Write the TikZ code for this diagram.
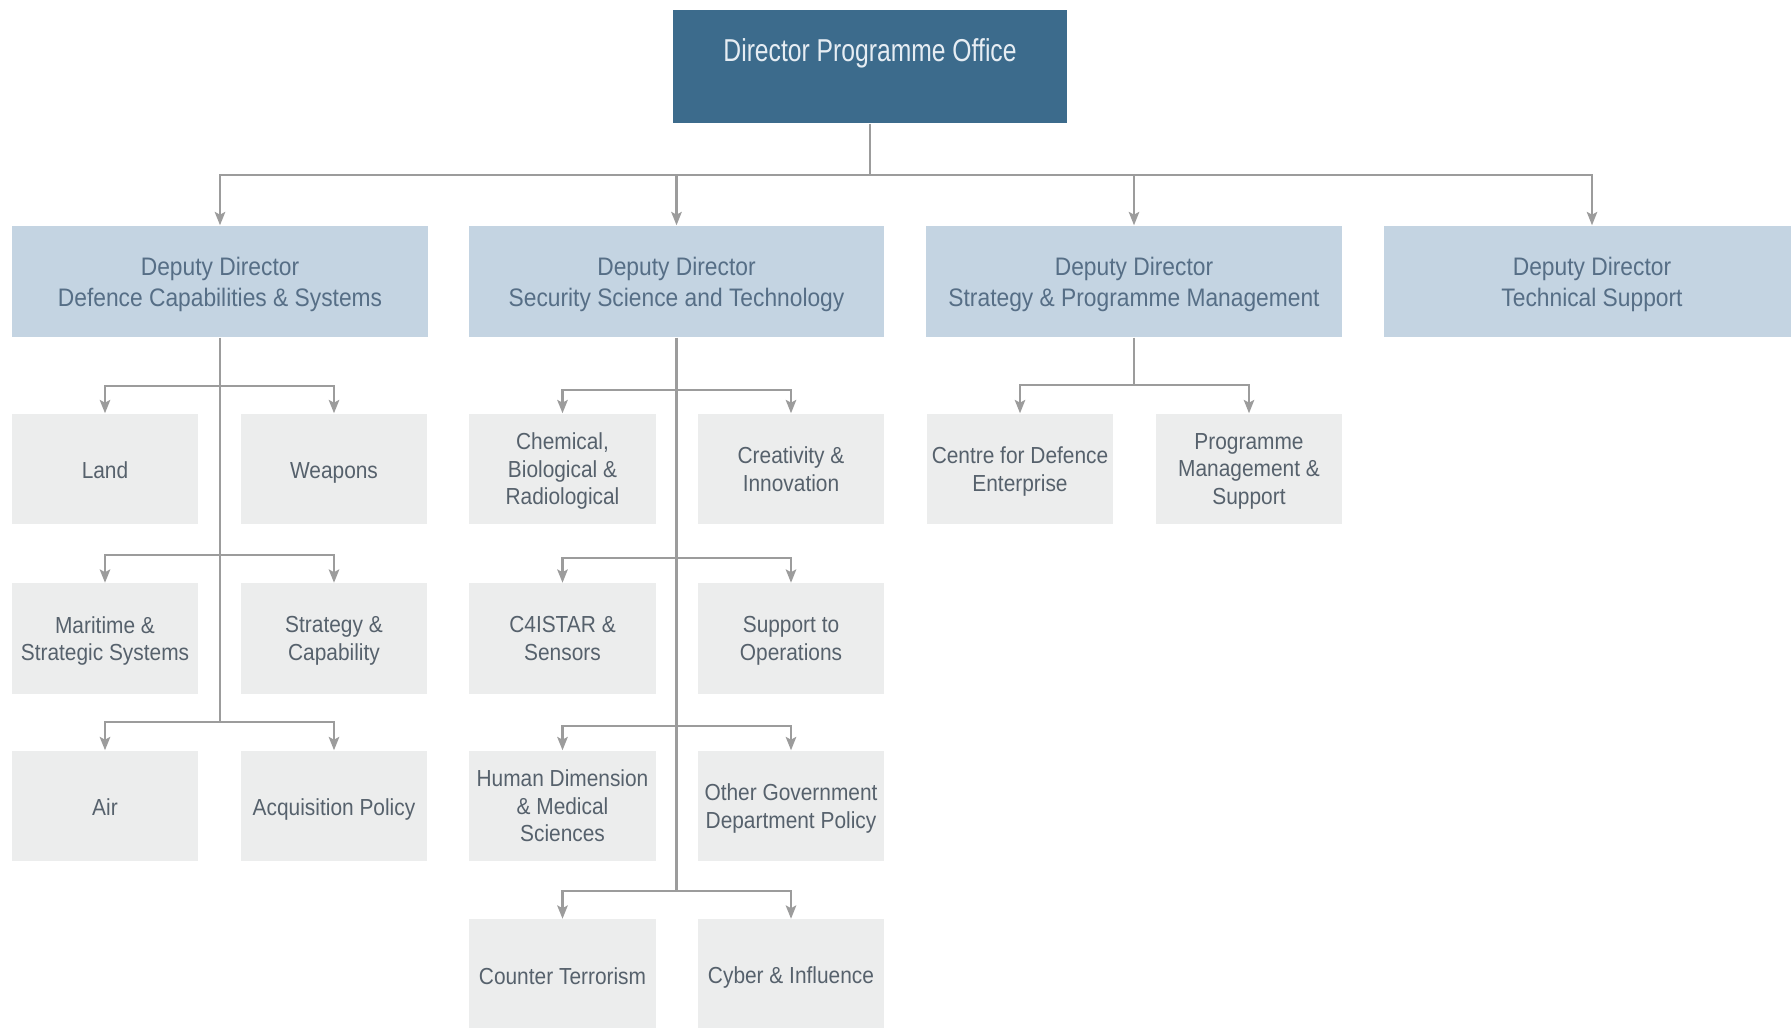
\documentclass[tikz,border=0pt]{standalone}
\usepackage{fontspec}
\setmainfont{Liberation Sans}[FakeStretch=0.9]
\newfontfamily\titlefont{Liberation Sans}[FakeStretch=0.78]
\usepackage{xcolor}
\usetikzlibrary{arrows.meta}

\definecolor{dpoblue}{HTML}{3C6B8C}
\definecolor{dpotext}{HTML}{E6EDF3}
\definecolor{ddblue}{HTML}{C4D4E2}
\definecolor{ddtext}{HTML}{566E86}
\definecolor{unitgrey}{HTML}{ECEDED}
\definecolor{unittext}{HTML}{56616C}
\definecolor{linkgrey}{HTML}{9C9C9C}

\newcommand\boxstrut{\rule[-0.14\baselineskip]{0pt}{\baselineskip}}

\tikzset{
 dpobox/.style={fill=dpoblue,text=dpotext,minimum width=3.94cm,minimum height=1.13cm,inner sep=0pt,
   font=\titlefont\fontsize{9}{11}\selectfont,text height=7pt,text depth=10pt},
 ddbox/.style={fill=ddblue,text=ddtext,minimum width=4.15cm,minimum height=1.11cm,inner sep=0pt,
   align=center,font=\fontsize{7.2}{8.8}\selectfont,text depth=-2.4pt},
 unitbox/.style={fill=unitgrey,text=unittext,minimum width=1.86cm,minimum height=1.10cm,inner sep=0pt,
   align=center,font=\fontsize{6.6}{7.8}\selectfont,
   execute at begin node=\boxstrut,execute at end node=\boxstrut},
 stack/.style={text depth=-1.7pt},
 link/.style={draw=linkgrey,line width=0.6pt},
 tolink/.style={link,-{Stealth[length=3.8pt,width=3pt,inset=0.8pt]}}
}

\begin{document}
\begin{tikzpicture}[x=0.01cm,y=-0.01cm]
 \useasboundingbox (0,0) rectangle (1791,1028);
 \clip (0,0) rectangle (1791,1028);

 % director
 \node[dpobox] (dpo) at (870,66.5) {Director Programme Office};

 % deputy directors
 \node[ddbox] (dcs) at (220,281.5) {Deputy Director\\Defence Capabilities \& Systems};
 \node[ddbox] (sst) at (676.5,281.5) {Deputy Director\\Security Science and Technology};
 \node[ddbox] (spm) at (1134,281.5) {Deputy Director\\Strategy \& Programme Management};
 \node[ddbox] (ts) at (1592,281.5) {Deputy Director\\Technical Support};

 % defence capabilities & systems
 \node[unitbox] (land) at (105,469) {Land};
 \node[unitbox] (weapons) at (334,469) {Weapons};
 \node[unitbox,stack] (maritime) at (105,638.5) {Maritime \&\\Strategic Systems};
 \node[unitbox,stack] (strategy) at (334,638.5) {Strategy \&\\Capability};
 \node[unitbox] (air) at (105,806) {Air};
 \node[unitbox] (acq) at (334,806) {Acquisition Policy};

 % security science and technology
 \node[unitbox,stack] (cbr) at (562.5,469) {Chemical,\\Biological \&\\Radiological};
 \node[unitbox,stack] (creat) at (791,469) {Creativity \&\\Innovation};
 \node[unitbox,stack] (cistar) at (562.5,638.5) {C4ISTAR \&\\Sensors};
 \node[unitbox,stack] (ops) at (791,638.5) {Support to\\Operations};
 \node[unitbox,stack] (human) at (562.5,806) {Human Dimension\\\& Medical\\Sciences};
 \node[unitbox,stack] (ogd) at (791,806) {Other Government\\Department Policy};
 \node[unitbox] (ct) at (562.5,974.5) {Counter Terrorism};
 \node[unitbox] (cyber) at (791,974.5) {Cyber \& Influence};

 % strategy & programme management
 \node[unitbox,stack] (cde) at (1020,469) {Centre for Defence\\Enterprise};
 \node[unitbox,stack] (pms) at (1249,469) {Programme\\Management \&\\Support};

 \coordinate (top) at (870,175);

 \coordinate (dcs1) at (220,386);
 \coordinate (dcs2) at (220,555);
 \coordinate (dcs3) at (220,722);

 \coordinate (sst1) at (676.5,390);
 \coordinate (sst2) at (676.5,558);
 \coordinate (sst3) at (676.5,726);
 \coordinate (sst4) at (676.5,891);

 \coordinate (spm1) at (1134,385);

 \draw[link] (dpo)--(top);
 \draw[tolink] (top) -| (dcs);
 \draw[tolink] (top) -| (sst);
 \draw[tolink] (top) -| (spm);
 \draw[tolink] (top) -| (ts);

 \draw[link] (dcs)--(dcs3);
 \draw[tolink] (dcs1) -| (land);
 \draw[tolink] (dcs1) -| (weapons);
 \draw[tolink] (dcs2) -| (maritime);
 \draw[tolink] (dcs2) -| (strategy);
 \draw[tolink] (dcs3) -| (air);
 \draw[tolink] (dcs3) -| (acq);

 \draw[link] (sst)--(sst4);
 \draw[tolink] (sst1) -| (cbr);
 \draw[tolink] (sst1) -| (creat);
 \draw[tolink] (sst2) -| (cistar);
 \draw[tolink] (sst2) -| (ops);
 \draw[tolink] (sst3) -| (human);
 \draw[tolink] (sst3) -| (ogd);
 \draw[tolink] (sst4) -| (ct);
 \draw[tolink] (sst4) -| (cyber);

 \draw[link] (spm)--(spm1);
 \draw[tolink] (spm1) -| (cde);
 \draw[tolink] (spm1) -| (pms);

\end{tikzpicture}
\end{document}
